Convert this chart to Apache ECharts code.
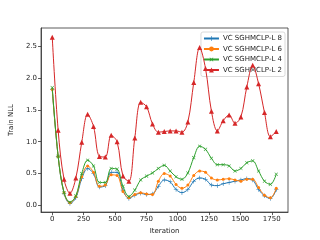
<!DOCTYPE html>
<html><head><meta charset="utf-8">
<script src="https://cdn.jsdelivr.net/npm/echarts@6/dist/echarts.min.js"></script>
<style>html,body{margin:0;padding:0;background:#fff}#c{width:320px;height:240px}</style>
</head><body><div id="c"></div>
<script>
const iterations = [0,47,94,141,188,235,282,329,376,423,470,517,564,611,658,705,752,799,846,893,940,987,1034,1081,1128,1175,1222,1269,1316,1363,1410,1457,1504,1551,1598,1645,1692,1739,1786];
const seriesNames = ['VC SGHMCLP-L 8','VC SGHMCLP-L 6','VC SGHMCLP-L 4','VC SGHMCLP-L 2'];
const l8 = [1.82,0.77,0.19,0.03,0.12,0.42,0.58,0.50,0.29,0.31,0.52,0.52,0.24,0.11,0.16,0.19,0.17,0.18,0.30,0.40,0.37,0.25,0.20,0.25,0.38,0.43,0.41,0.32,0.31,0.34,0.36,0.38,0.40,0.42,0.40,0.25,0.15,0.11,0.25];
const l6 = [1.82,0.77,0.20,0.04,0.14,0.45,0.62,0.52,0.30,0.32,0.48,0.47,0.22,0.12,0.17,0.20,0.18,0.17,0.38,0.50,0.46,0.33,0.27,0.32,0.47,0.54,0.52,0.43,0.40,0.41,0.42,0.40,0.38,0.41,0.41,0.28,0.16,0.12,0.27];
const l4 = [1.85,0.77,0.20,0.05,0.15,0.50,0.71,0.62,0.36,0.36,0.58,0.57,0.30,0.14,0.24,0.40,0.46,0.51,0.58,0.63,0.54,0.45,0.41,0.51,0.75,0.93,0.88,0.74,0.64,0.64,0.62,0.54,0.58,0.67,0.70,0.54,0.38,0.33,0.49];
const l2 = [2.64,1.18,0.41,0.19,0.43,0.99,1.43,1.24,0.77,0.76,1.10,1.00,0.46,0.38,1.06,1.62,1.55,1.28,1.15,1.16,1.17,1.17,1.15,1.31,1.93,2.48,2.15,1.48,1.17,1.33,1.42,1.29,1.39,1.86,2.20,1.91,1.46,1.08,1.16];
const xTicks = [0,250,500,750,1000,1250,1500,1750];
const yTicks = [0,0.5,1.0,1.5,2.0,2.5];

const colors = ['#1f77b4','#ff7f0e','#2ca02c','#d62728'];
const plus = 'path://M-0.12,-1H0.12V-0.12H1V0.12H0.12V1H-0.12V0.12H-1V-0.12H-0.12Z';
const symbols = [plus,'circle',plus,'triangle'];
const symSizes = [4.5,3,4.5,5];
const rotates = [0,0,45,0];
const allData = [l8,l6,l4,l2];
const font = 'DejaVu Sans';

const chart = echarts.init(document.getElementById('c'), null, {renderer:'canvas'});
chart.setOption({
  animation:false,
  backgroundColor:'#fff',
  grid:{left:40,right:32,top:28,bottom:27,show:true,borderColor:'#333',borderWidth:0.8,backgroundColor:'transparent'},
  legend:{
    orient:'vertical', right:35, top:32,
    data:seriesNames,
    itemWidth:15, itemHeight:6, itemGap:3.5,
    textStyle:{fontFamily:font,fontSize:7,color:'#222',padding:[0,0,0,-1]},
    backgroundColor:'rgba(255,255,255,0.8)', borderColor:'#d0d0d0', borderWidth:0.8, borderRadius:2,
    padding:[3,3,3,2]
  },
  xAxis:{
    type:'value', min:-89.5, max:1879.5,
    name:'Iteration', nameLocation:'middle', nameGap:15,
    nameTextStyle:{fontFamily:font,fontSize:7,color:'#222'},
    axisLine:{show:true,onZero:false,lineStyle:{color:'#333',width:0.8}},
    axisTick:{show:true,length:3,customValues:xTicks,lineStyle:{color:'#333',width:0.8}},
    axisLabel:{customValues:xTicks,fontFamily:font,fontSize:7,color:'#222',margin:4,formatter:v=>String(v)},
    splitLine:{show:false}
  },
  yAxis:{
    type:'value', min:-0.105, max:2.786,
    name:'Train NLL', nameLocation:'middle', nameGap:23, nameRotate:90,
    nameTextStyle:{fontFamily:font,fontSize:7,color:'#222'},
    axisLine:{show:true,onZero:false,lineStyle:{color:'#333',width:0.8}},
    axisTick:{show:true,length:3,customValues:yTicks,lineStyle:{color:'#333',width:0.8}},
    axisLabel:{customValues:yTicks,fontFamily:font,fontSize:7,color:'#222',margin:4,formatter:v=>v.toFixed(1)},
    splitLine:{show:false}
  },
  series: allData.map((d,k)=>({
    name:seriesNames[k], type:'line', smooth:0.35,
    data: iterations.map((x,i)=>[x,d[i]]),
    symbol:symbols[k], symbolSize:symSizes[k], symbolRotate:rotates[k], showSymbol:true,
    lineStyle:{color:colors[k],width:1},
    itemStyle:{color:colors[k],borderWidth:0},
    z:2+k
  }))
});
</script></body></html>
